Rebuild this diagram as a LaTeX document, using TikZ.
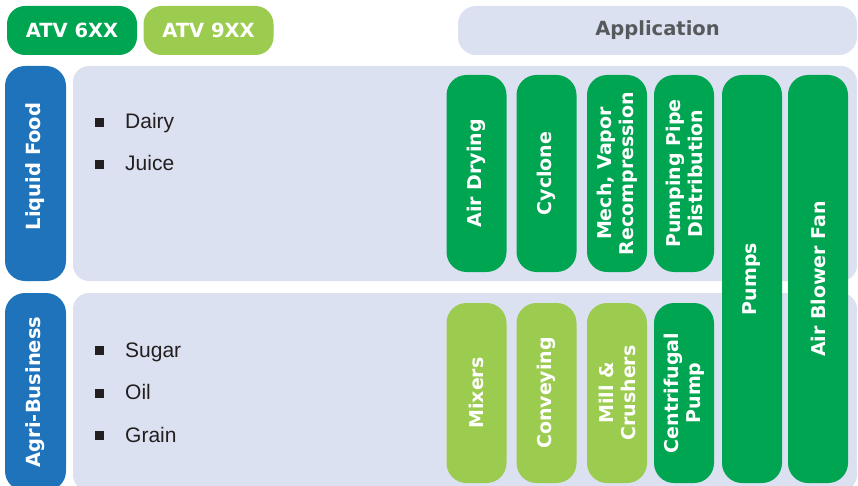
\documentclass[tikz,border=0pt]{standalone}
\usepackage{fontspec}
\setmainfont{Liberation Sans}
\newfontfamily\tagfont{DejaVu Sans}

\definecolor{atvdark}{HTML}{00A551}
\definecolor{atvlight}{HTML}{9BCB4F}
\definecolor{sectorblue}{HTML}{1F73BA}
\definecolor{panelgrey}{HTML}{DCE1F1}
\definecolor{headtext}{HTML}{565A5C}
\definecolor{itemtext}{HTML}{231F20}

\newcommand\bulletsq{\raisebox{2pt}{\rule{9pt}{9pt}}\hspace{21pt}}

\begin{document}
\begin{tikzpicture}[
            x=1pt, y=-1pt,
            every node/.style={inner sep=0pt},
            tag/.style={rounded corners=18pt, minimum width=130pt, minimum height=49pt, text=white,
                font=\tagfont\bfseries\fontsize{19.5}{22}\selectfont},
            panel/.style={fill=panelgrey, rounded corners=16pt, minimum width=784pt},
            sector/.style={fill=sectorblue, rotate=90, rounded corners=20pt, minimum height=61pt, text=white,
                font=\tagfont\bfseries\fontsize{19.5}{22}\selectfont},
            app/.style={rotate=90, rounded corners=20pt, minimum height=60pt, align=center, text=white,
                font=\tagfont\bfseries\fontsize{19}{22}\selectfont},
            short/.style={app, minimum width=197pt},
            low/.style={app, minimum width=180pt},
            tall/.style={app, minimum width=408pt, fill=atvdark},
            item/.style={anchor=base west, text=itemtext, font=\fontsize{21}{25}\selectfont}
            ]
            \useasboundingbox (0,0) rectangle (858,486);
            \clip (0,0) rectangle (858,486);

            \node[tag, fill=atvdark] (atv6) at (72,30.5) {ATV 6XX};
            \node[tag, fill=atvlight] (atv9) at (208.5,30.5) {ATV 9XX};
            \node[tag, fill=panelgrey, text=headtext, minimum width=399pt] (application) at (657.5,30.5) {Application};

            \node[panel, minimum height=215pt] (liquidpanel) at (465,173.5) {};
            \node[panel, minimum height=198pt] (agripanel) at (465,392) {};
            \node[sector, minimum width=215pt] (liquid) at (35.5,173.5) {\hspace*{14pt}Liquid Food};
            \node[sector, minimum width=198pt] (agri) at (35.5,392) {Agri-Business};

            \node[item] (dairy) at (95,129) {\bulletsq Dairy};
            \node[item] (juice) at (95,171) {\bulletsq Juice};
            \node[item] (sugar) at (95,357) {\bulletsq Sugar};
            \node[item] (oil) at (95,399.5) {\bulletsq Oil};
            \node[item] (grain) at (95,442) {\bulletsq Grain};

            \node[short, fill=atvdark] (airdrying) at (476.5,173.5) {Air Drying};
            \node[short, fill=atvdark] (cyclone) at (546.5,173.5) {Cyclone};
            \node[short, fill=atvdark] (mvr) at (617,173.5) {Mech, Vapor\\Recompression};
            \node[short, fill=atvdark] (pipe) at (684,173.5) {Pumping Pipe\\Distribution};
            \node[tall] (pumps) at (752,279) {Pumps};
            \node[tall] (blower) at (818,279) {Air Blower Fan};
            \node[low, fill=atvlight] (mixers) at (476.5,393) {Mixers};
            \node[low, fill=atvlight] (conveying) at (546.5,393) {Conveying};
            \node[low, fill=atvlight] (mill) at (617,393) {Mill \&\\Crushers};
            \node[low, fill=atvdark] (centrifugal) at (684,393) {Centrifugal\\Pump};
\end{tikzpicture}
\end{document}
